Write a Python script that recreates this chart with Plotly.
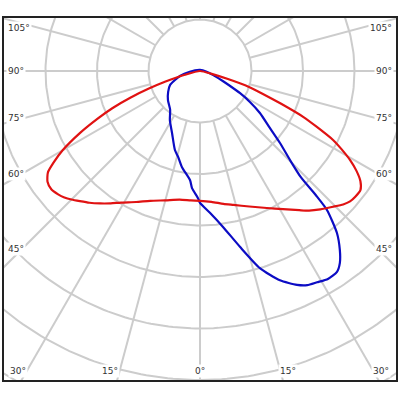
import numpy as np
import plotly.graph_objects as go

# ---- data (angle from nadir in degrees, intensity in grid-ring units) ----
red_angle = [-80, -76, -73, -71, -69, -67, -65, -62.7, -60, -58, -56.3, -54, -51.5, -49, -47,
             -45, -42.7, -40, -37, -34, -31, -26, -21, -15, -9, -4, 0, 5, 10, 14, 20, 26, 31,
             35.5, 38, 41, 44.4, 47, 49, 51, 53.4, 55.5, 57.5, 59.3, 61, 62.6, 64.5, 66, 68,
             70, 72, 74, 76, 80]
red_value = [0.0, 0.30, 0.70, 1.05, 1.45, 1.85, 2.20, 2.62, 3.08, 3.35, 3.55, 3.66, 3.69, 3.65,
             3.60, 3.53, 3.44, 3.34, 3.22, 3.10, 2.98, 2.83, 2.70, 2.60, 2.53, 2.52, 2.52, 2.55,
             2.62, 2.68, 2.80, 2.96, 3.13, 3.32, 3.44, 3.56, 3.69, 3.80, 3.86, 3.88, 3.88, 3.78,
             3.60, 3.39, 3.15, 2.91, 2.50, 2.20, 1.70, 1.30, 1.00, 0.55, 0.25, 0.0]

blue_angle = [-180, -86, -76, -65, -56.7, -47.8, -37.6, -31.5, -24.3, -17.6, -14.3, -10.6, -5.2,
              -3.9, -0.9, 0, 4, 8.4, 12.8, 16.9, 20.9, 24.4, 26.6, 29, 31.6, 34.3, 36.1, 38,
              40.2, 42.4, 43, 43.5, 45.3, 48, 50.8, 55, 58.2, 61, 64, 66, 73, 84, 180]
blue_value = [0.02, 0.20, 0.40, 0.64, 0.74, 0.84, 0.95, 1.12, 1.32, 1.61, 1.72, 1.90, 2.13,
              2.28, 2.47, 2.56, 2.76, 3.06, 3.50, 4.00, 4.35, 4.56, 4.65, 4.69, 4.74, 4.72,
              4.61, 4.41, 4.12, 3.66, 3.30, 2.85, 2.46, 2.09, 1.75, 1.42, 1.14, 0.89, 0.62,
              0.50, 0.26, 0.13, 0.02]

ring_radii = [1, 2, 3, 4, 5, 6, 7]
ray_angles = list(range(0, 360, 15))

side_labels = ["105°", "90°", "75°", "60°", "45°", "30°"]
side_label_y_px = [28, 71, 118, 174, 249, 371]
bottom_labels = ["15°", "0°", "15°"]
bottom_label_x_px = [110, 200, 288]

# ---- geometry of the picture ----
W, H = 400, 400
L, R, T, B = 3, 3, 17, 19
cx_px, cy_px = 200, 71
unit = 51.5  # px per ring


def polar_xy(ang, val):
    a = np.radians(np.asarray(ang, dtype=float))
    v = np.asarray(val, dtype=float)
    return v * np.sin(a), -v * np.cos(a)


fig = go.Figure()

# rings
t = np.linspace(0, 2 * np.pi, 361)
rx, ry = [], []
for r in ring_radii:
    rx += list(r * np.cos(t)) + [None]
    ry += list(r * np.sin(t)) + [None]
fig.add_trace(go.Scatter(x=rx, y=ry, mode="lines", line=dict(color="#cccccc", width=2),
                         hoverinfo="skip"))

# rays
sx, sy = [], []
for a in ray_angles:
    ar = np.radians(a)
    sx += [np.sin(ar) * 1, np.sin(ar) * 10, None]
    sy += [-np.cos(ar) * 1, -np.cos(ar) * 10, None]
fig.add_trace(go.Scatter(x=sx, y=sy, mode="lines", line=dict(color="#cccccc", width=2),
                         hoverinfo="skip"))

bx, by = polar_xy(blue_angle, blue_value)
fig.add_trace(go.Scatter(x=bx, y=by, mode="lines", line=dict(color="#0c0cc4", width=2.2,
                         shape="spline", smoothing=0.6), hoverinfo="skip"))
rdx, rdy = polar_xy(red_angle, red_value)
fig.add_trace(go.Scatter(x=rdx, y=rdy, mode="lines", line=dict(color="#e01212", width=2.2,
                         shape="spline", smoothing=0.6), hoverinfo="skip"))

pw, ph = W - L - R, H - T - B


def px_to_paper(xp, yp):
    return (xp - L) / pw, (H - B - yp) / ph


font = dict(family="DejaVu Sans", size=9, color="#333333")
ann = []
for txt, yp in zip(side_labels, side_label_y_px):
    xl, yl = px_to_paper(6 if txt != "30°" else 8, yp)
    ann.append(dict(x=xl, y=yl, xref="paper", yref="paper", text=txt, showarrow=False,
                    xanchor="left", yanchor="middle", font=font, bgcolor="white", borderpad=1))
    xr, yr = px_to_paper(394 if txt != "30°" else 391, yp)
    ann.append(dict(x=xr, y=yr, xref="paper", yref="paper", text=txt, showarrow=False,
                    xanchor="right", yanchor="middle", font=font, bgcolor="white", borderpad=1))
for txt, xp in zip(bottom_labels, bottom_label_x_px):
    xb, yb = px_to_paper(xp, 371)
    ann.append(dict(x=xb, y=yb, xref="paper", yref="paper", text=txt, showarrow=False,
                    xanchor="center", yanchor="middle", font=font, bgcolor="white", borderpad=1))

fig.update_layout(
    width=W, height=H, margin=dict(l=L, r=R, t=T, b=B),
    paper_bgcolor="white", plot_bgcolor="white", showlegend=False,
    xaxis=dict(range=[(L - cx_px) / unit, (W - R - cx_px) / unit], visible=False, fixedrange=True),
    yaxis=dict(range=[(cy_px - (H - B)) / unit, (cy_px - T) / unit], visible=False, fixedrange=True),
    annotations=ann,
    shapes=[dict(type="rect", xref="paper", yref="paper", x0=0, y0=0, x1=1, y1=1,
                 line=dict(color="#222222", width=2), layer="above")],
)

fig.write_html("out.html", config={"displayModeBar": False, "staticPlot": True},
               post_script="document.body.style.margin='0';document.body.style.overflow='hidden';")
